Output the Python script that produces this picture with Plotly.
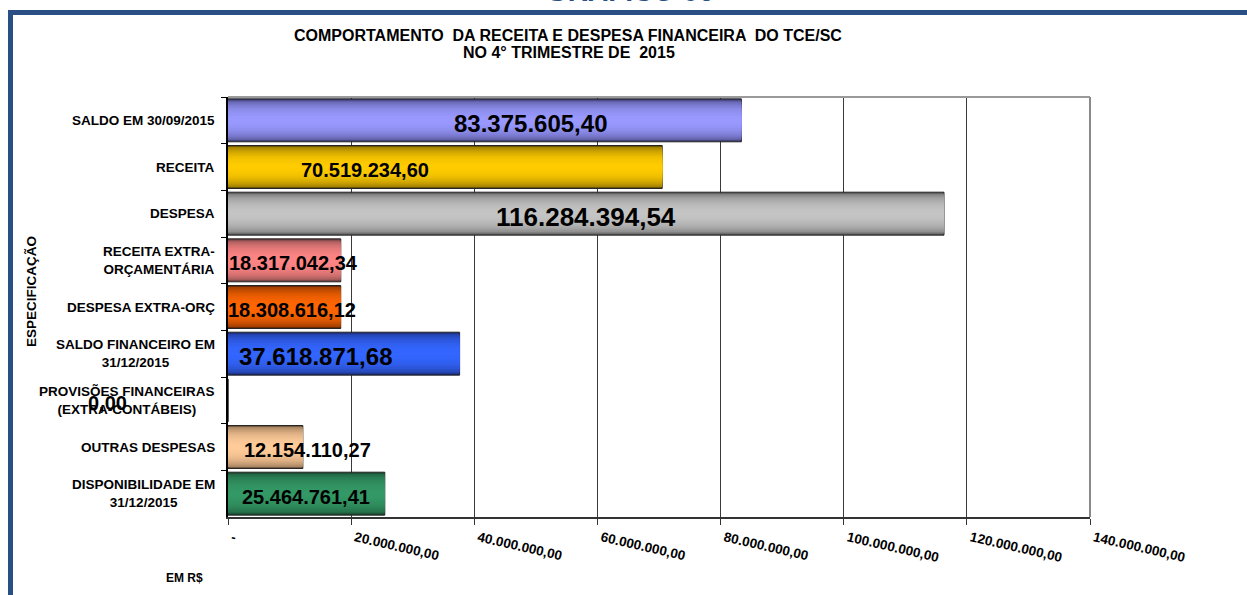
import plotly.graph_objects as go
import math

# ---------------- data ----------------
categories = [
    "SALDO EM 30/09/2015",
    "RECEITA",
    "DESPESA",
    "RECEITA EXTRA-<br>ORÇAMENTÁRIA",
    "DESPESA EXTRA-ORÇ",
    "SALDO FINANCEIRO EM<br>31/12/2015",
    "PROVISÕES FINANCEIRAS<br>(EXTRA-CONTÁBEIS)",
    "OUTRAS DESPESAS",
    "DISPONIBILIDADE EM<br>31/12/2015",
]
values = [83375605.40, 70519234.60, 116284394.54, 18317042.34, 18308616.12,
          37618871.68, 0.00, 12154110.27, 25464761.41]
value_labels = ["83.375.605,40", "70.519.234,60", "116.284.394,54", "18.317.042,34",
                "18.308.616,12", "37.618.871,68", "0,00", "12.154.110,27", "25.464.761,41"]
tick_values = [0, 20e6, 40e6, 60e6, 80e6, 100e6, 120e6, 140e6]
tick_labels = ["-", "20.000.000,00", "40.000.000,00", "60.000.000,00", "80.000.000,00",
               "100.000.000,00", "120.000.000,00", "140.000.000,00"]

# ---------------- style ----------------
light = ["#9999FF", "#FFCC00", "#C4C4C4", "#FF8585", "#FF6600", "#3366FF", "#FFFFFF", "#FFCC99", "#339966"]
dark = ["#3C3C70", "#6E5800", "#5A5A5A", "#704040", "#6E2A00", "#1A2C78", "#FFFFFF", "#7A5E44", "#1A4A30"]
label_xshift = [46, -80, 0, 9, 8, -28, -121, 42, 0]
label_size = [24, 20, 26, 20, 20, 24, 20, 20, 20]

FONT = "Arial, Liberation Sans, sans-serif"
BORDER = "#2A4F85"
H = 420.0  # plot-area height in px (for paper coordinates)
W = 862.0

def px_x(p):
    return (p - 228) / W

def px_y(p):
    return (517 - p) / H

def mix(c1, c2, f):
    a = [int(c1[i:i + 2], 16) for i in (1, 3, 5)]
    b = [int(c2[i:i + 2], 16) for i in (1, 3, 5)]
    return "rgb(%d,%d,%d)" % tuple(round(a[j] + (b[j] - a[j]) * f) for j in range(3))

fig = go.Figure()
N = 14
for k in range(N):
    d = 1 - k / N
    f = math.sqrt(max(0.0, 1 - d * d))
    cols = [mix(dark[i], light[i], f) for i in range(len(values))]
    fig.add_trace(go.Bar(
        x=values, y=categories, orientation="h", width=0.92 * d,
        marker=dict(color=cols,
                    line=dict(color="#222222", width=1 if k == 0 else 0)),
        hoverinfo="skip", showlegend=False,
    ))

# value labels
for i, (v, t) in enumerate(zip(values, value_labels)):
    fig.add_annotation(x=v / 2, y=categories[i], xref="x", yref="y", text=t,
                       showarrow=False, xshift=label_xshift[i], yshift=-3,
                       xanchor="center", yanchor="middle",
                       font=dict(family=FONT, size=label_size[i], color="black", weight="bold"))

# category labels
for c in categories:
    fig.add_annotation(x=px_x(217), y=c, xref="paper", yref="y", text=c, showarrow=False,
                       xanchor="right", yanchor="middle", align="center",
                       font=dict(family=FONT, size=13.5, color="black", weight="bold"))

# titles
fig.add_annotation(x=px_x(568), y=px_y(35), xref="paper", yref="paper",
                   xanchor="center", yanchor="middle",
                   text="COMPORTAMENTO  DA RECEITA E DESPESA FINANCEIRA  DO TCE/SC",
                   showarrow=False, font=dict(family=FONT, size=16, color="black", weight="bold"))
fig.add_annotation(x=px_x(569), y=px_y(53), xref="paper", yref="paper",
                   xanchor="center", yanchor="middle",
                   text="NO 4° TRIMESTRE DE  2015",
                   showarrow=False, font=dict(family=FONT, size=16, color="black", weight="bold"))
fig.add_annotation(x=px_x(630), y=px_y(9), xref="paper", yref="paper",
                   xanchor="center", yanchor="bottom",
                   text="GRÁFICO 06", showarrow=False,
                   font=dict(family=FONT, size=28, color=BORDER, weight="bold"))
fig.add_annotation(x=px_x(31), y=px_y(292), xref="paper", yref="paper", text="ESPECIFICAÇÃO",
                   xanchor="center", yanchor="middle", textangle=-90, showarrow=False,
                   font=dict(family=FONT, size=13.5, color="black", weight="bold"))
fig.add_annotation(x=px_x(184), y=px_y(578), xref="paper", yref="paper", text="EM R$",
                   xanchor="center", yanchor="middle",
                   showarrow=False, font=dict(family=FONT, size=12, color="black", weight="bold"))

# frame and plot borders
fig.add_shape(type="rect", xref="paper", yref="paper", x0=px_x(10.5), x1=px_x(1300),
              y0=px_y(640), y1=px_y(12.5),
              line=dict(color=BORDER, width=5), layer="below")
fig.add_shape(type="line", xref="paper", yref="paper", x0=0, x1=1, y0=1, y1=1,
              line=dict(color="#9A9A9A", width=2))
fig.add_shape(type="line", xref="paper", yref="paper", x0=1, x1=1, y0=0, y1=1,
              line=dict(color="#8A8A8A", width=2))

fig.update_layout(
    width=1247, height=595,
    margin=dict(l=228, r=157, t=97, b=78),
    barmode="overlay", bargap=0.08,
    paper_bgcolor="white", plot_bgcolor="white",
    xaxis=dict(range=[0, 140e6], tickvals=tick_values, ticktext=tick_labels,
               tickangle=13, ticklabelshift=4,
               tickfont=dict(family=FONT, size=13.5, color="black", weight="bold"),
               showgrid=True, gridcolor="#3A3A3A", gridwidth=1,
               showline=True, linecolor="#333333", linewidth=2,
               ticks="outside", ticklen=6, tickcolor="#333333", zeroline=False,
               fixedrange=True),
    yaxis=dict(autorange="reversed", showticklabels=False, tickson="boundaries",
               ticks="outside", ticklen=5, tickcolor="black",
               showline=True, linecolor="black", linewidth=2, showgrid=False,
               fixedrange=True),
)

fig.write_html("out.html", config={"displayModeBar": False},
               post_script="document.body.style.margin='0';document.body.style.overflow='hidden';")
